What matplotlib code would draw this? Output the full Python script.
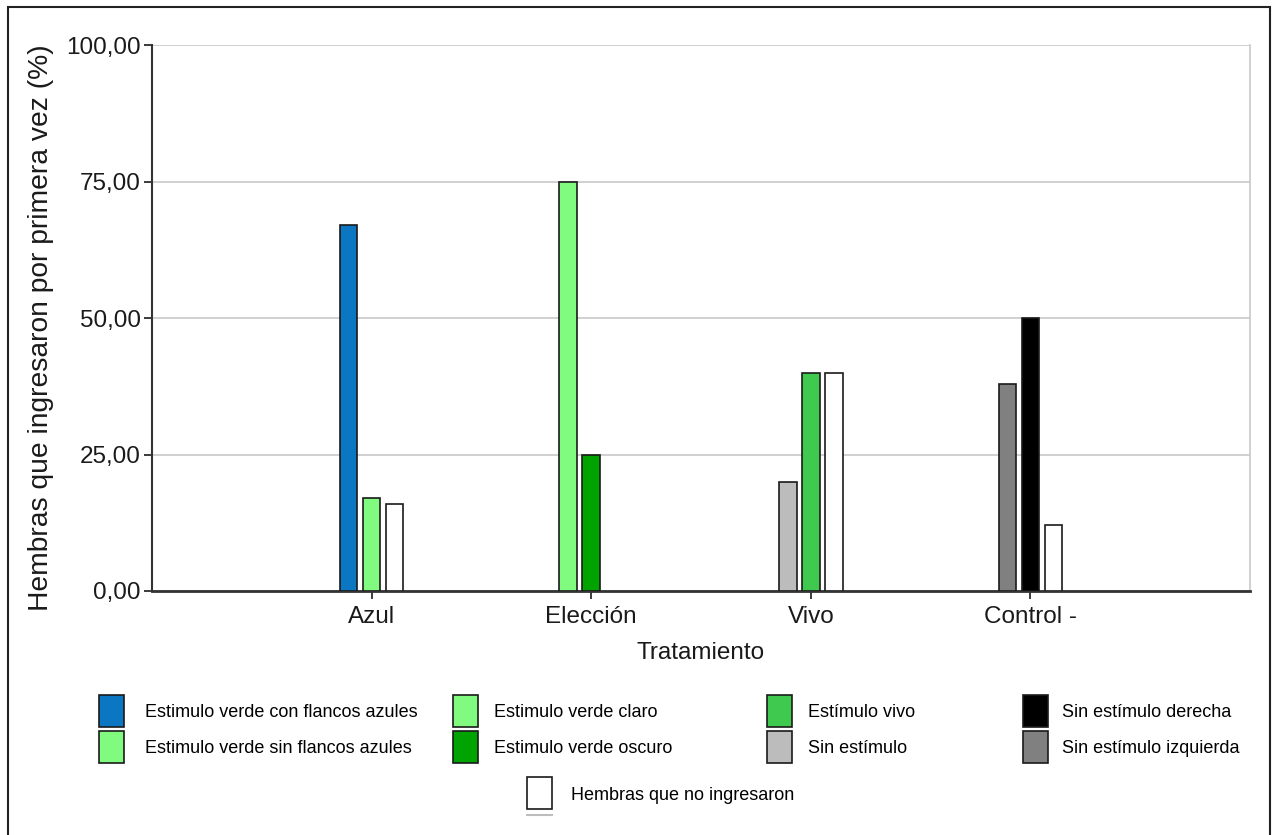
import matplotlib
matplotlib.use("Agg")
import matplotlib.pyplot as plt
from matplotlib.patches import Rectangle
from matplotlib.lines import Line2D
from matplotlib.legend_handler import HandlerPatch
from matplotlib.ticker import FuncFormatter
import numpy as np

plt.rcParams['font.family'] = ['Liberation Sans', 'DejaVu Sans']

categories = ['Azul', 'Elección', 'Vivo', 'Control -']

# series in drawing order (within a group)
series_names = [
    'Estimulo verde con flancos azules',
    'Estimulo verde sin flancos azules',
    'Estimulo verde claro',
    'Estimulo verde oscuro',
    'Sin estímulo',
    'Estímulo vivo',
    'Sin estímulo izquierda',
    'Sin estímulo derecha',
    'Hembras que no ingresaron',
]
series_colors = ['#0b77c2', '#80fb80', '#80fb80', '#00a300', '#bcbcbc',
                 '#3fc94f', '#808080', '#000000', '#ffffff']
series_values = [
    [67, None, None, None],
    [17, None, None, None],
    [None, 75, None, None],
    [None, 25, None, None],
    [None, None, 20, None],
    [None, None, 40, None],
    [None, None, None, 38],
    [None, None, None, 50],
    [16, None, 40, 12],
]

legend_columns = [
    ['Estimulo verde con flancos azules', 'Estimulo verde sin flancos azules'],
    ['Estimulo verde claro', 'Estimulo verde oscuro'],
    ['Estímulo vivo', 'Sin estímulo'],
    ['Sin estímulo derecha', 'Sin estímulo izquierda'],
]
legend_last = 'Hembras que no ingresaron'

W, H = 1273, 835
fig = plt.figure(figsize=(W / 100, H / 100), dpi=100)
ax = fig.add_axes([152 / W, 1 - 591 / H, (1250 - 152) / W, (591 - 45) / H])

pitch = 0.1047
width = 0.08
x = np.arange(len(categories))
handles = {}
for ci in range(len(categories)):
    rank = 0
    for si, name in enumerate(series_names):
        v = series_values[si][ci]
        if v is None:
            continue
        off = (rank - 1) * pitch
        rank += 1
        b = ax.bar(x[ci] + off, v, width=width, color=series_colors[si],
                   edgecolor='#1a1a1a', linewidth=1.2, zorder=3)
        handles[name] = b.patches[0]

ax.set_xlim(-1, 4)
ax.set_ylim(0, 100)
ax.set_yticks([0, 25, 50, 75, 100])
ax.yaxis.set_major_formatter(FuncFormatter(lambda v, p: f"{v:.2f}".replace('.', ',')))
ax.set_xticks(x)
ax.set_xticklabels(categories)
ax.tick_params(axis='both', labelsize=17.5, colors='#1a1a1a', length=6, width=1.2)
ax.tick_params(axis='y', pad=2)
ax.tick_params(axis='x', pad=5)
ax.grid(axis='y', color='#c8c8c8', linewidth=1.2, zorder=0)
ax.set_axisbelow(True)
ax.spines['top'].set_visible(False)
ax.spines['right'].set_color('#c8c8c8')
ax.spines['right'].set_linewidth(1.2)
ax.spines['left'].set_color('#333333')
ax.spines['left'].set_linewidth(1.5)
ax.spines['bottom'].set_color('#333333')
ax.spines['bottom'].set_linewidth(2)
ax.set_xlabel('Tratamiento', fontsize=17.5, labelpad=10, color='#1a1a1a')
ax.set_ylabel('Hembras que ingresaron por primera vez (%)', fontsize=20.3,
              color='#1a1a1a', va='center')
ax.yaxis.set_label_coords((41 - 152) / (1250 - 152), (591 - 328) / (591 - 45))

# legend entries, each placed individually
fs = 13
fpx = fs * 100 / 72
PW, PH = 25, 32  # handle size in pixels


def make_patch(legend, orig_handle, xdescent, ydescent, width, height, fontsize):
    hp = PH * 72 / 100
    cy = -ydescent + height / 2
    return Rectangle((-xdescent, cy - hp / 2), width, hp)


handler = HandlerPatch(patch_func=make_patch)

col_patch_x = [99, 453, 767, 1023]
col_text_x = [145, 494, 808, 1062]
row_y = [712.5, 748.5]
entries = []
for cpx, ctx, names in zip(col_patch_x, col_text_x, legend_columns):
    for ry, n in zip(row_y, names):
        entries.append((n, cpx, ctx, ry))
entries.append((legend_last, 527, 571, 795))

for name, px, tx, yc in entries:
    h = handles[name]
    fig.legend([h], [name], loc='center left',
               bbox_to_anchor=(px / W, 1 - yc / H), frameon=False,
               fontsize=fs, borderpad=0, borderaxespad=0,
               handlelength=PW / fpx, handletextpad=(tx - px - PW) / fpx,
               handler_map={Rectangle: handler})

fig.add_artist(Line2D([527 / W, 552 / W], [1 - 815 / H, 1 - 815 / H],
                      transform=fig.transFigure, color='#bdbdbd', linewidth=1.5))

# figure frame
fig.add_artist(Rectangle((8 / W, -0.02), (1270 - 8) / W, 1 - 7 / H + 0.02,
                         transform=fig.transFigure, fill=False,
                         edgecolor='#222222', linewidth=1.5))

fig.savefig('out.png', dpi=100)
